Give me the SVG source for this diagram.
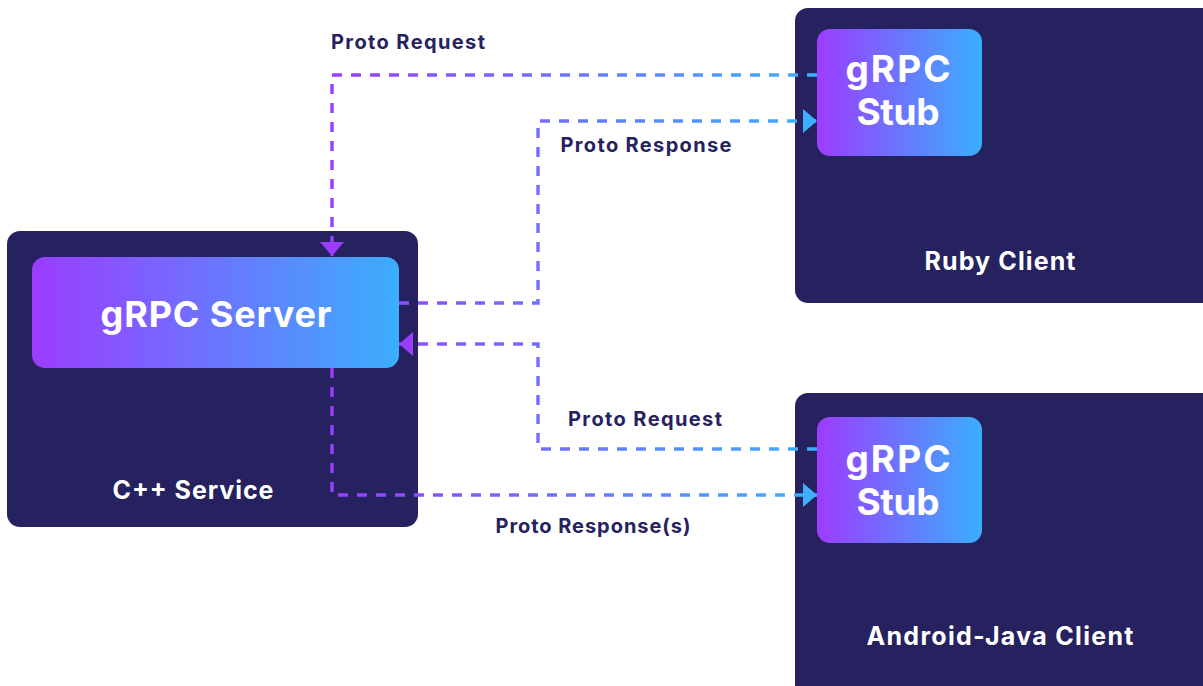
<svg xmlns="http://www.w3.org/2000/svg" width="1203" height="686" viewBox="0 0 1203 686">
  <defs>
    <linearGradient id="boxGrad" x1="0" y1="0" x2="1" y2="0">
      <stop offset="0" stop-color="#9C3CFF"/>
      <stop offset="1" stop-color="#3BAEFD"/>
    </linearGradient>
    <linearGradient id="lineGrad" gradientUnits="userSpaceOnUse" x1="332" y1="0" x2="817" y2="0">
      <stop offset="0" stop-color="#9A3DFF"/>
      <stop offset="1" stop-color="#3DB0FF"/>
    </linearGradient>
    <marker id="arrowPurple" markerUnits="userSpaceOnUse" markerWidth="16" markerHeight="26" refX="14" refY="12" orient="auto" viewBox="0 0 16 24">
      <path d="M0,0 L14,12 L0,24 Z" fill="#9A3DFF"/>
    </marker>
    <marker id="arrowBlue" markerUnits="userSpaceOnUse" markerWidth="16" markerHeight="26" refX="14" refY="12" orient="auto" viewBox="0 0 16 24">
      <path d="M0,0 L14,12 L0,24 Z" fill="#3DAFFF"/>
    </marker>
    <style>
      .outer { fill: #262260; }
      .inner { fill: url(#boxGrad); }
      .conn { fill: none; stroke: url(#lineGrad); stroke-width: 3.4; stroke-dasharray: 10 9; }
      .lbl { font-family: Inter, "Liberation Sans", sans-serif; font-weight: 700; fill: #262260; font-size: 20px; text-anchor: middle; }
      .wt { font-family: Inter, "Liberation Sans", sans-serif; font-weight: 700; fill: #ffffff; text-anchor: middle; }
    </style>
  </defs>
  <rect width="1203" height="686" fill="#ffffff"/>

  <g id="cpp-service">
    <rect class="outer" x="7" y="231" width="411" height="296" rx="13"/>
    <text class="wt" x="193" y="499" font-size="25" textLength="161" lengthAdjust="spacing">C++ Service</text>
  </g>
  <g id="grpc-server">
    <rect class="inner" x="32" y="257" width="367" height="111" rx="13"/>
    <text class="wt" x="216" y="327" font-size="36" textLength="231" lengthAdjust="spacing">gRPC Server</text>
  </g>

  <g id="ruby-client">
    <rect class="outer" x="795" y="8" width="420" height="295" rx="13"/>
    <text class="wt" x="1000" y="270" font-size="25" textLength="151" lengthAdjust="spacing">Ruby Client</text>
  </g>
  <g id="ruby-stub">
    <rect class="inner" x="817" y="29" width="165" height="127" rx="13"/>
    <text class="wt" x="898" y="82" font-size="37" textLength="105" lengthAdjust="spacing">gRPC</text>
    <text class="wt" x="898" y="125" font-size="37" textLength="83" lengthAdjust="spacing">Stub</text>
  </g>

  <g id="android-client">
    <rect class="outer" x="795" y="393" width="420" height="310" rx="13"/>
    <text class="wt" x="1000" y="645" font-size="25" textLength="267" lengthAdjust="spacing">Android-Java Client</text>
  </g>
  <g id="android-stub">
    <rect class="inner" x="817" y="417" width="165" height="126" rx="13"/>
    <text class="wt" x="898" y="472" font-size="37" textLength="105" lengthAdjust="spacing">gRPC</text>
    <text class="wt" x="898" y="515" font-size="37" textLength="83" lengthAdjust="spacing">Stub</text>
  </g>

  <g id="connectors">
    <path class="conn" d="M817,75 H332 V256" marker-end="url(#arrowPurple)"/>
    <path class="conn" d="M399,303 H538 V121 H817" marker-end="url(#arrowBlue)"/>
    <path class="conn" d="M817,449 H538 V344 H399" marker-end="url(#arrowPurple)"/>
    <path class="conn" d="M332,368 V495 H817" marker-end="url(#arrowBlue)"/>
  </g>

  <g id="labels">
    <text class="lbl" x="408" y="49" textLength="154" lengthAdjust="spacing">Proto Request</text>
    <text class="lbl" x="646" y="152" textLength="171" lengthAdjust="spacing">Proto Response</text>
    <text class="lbl" x="645" y="426" textLength="154" lengthAdjust="spacing">Proto Request</text>
    <text class="lbl" x="593" y="533" textLength="195" lengthAdjust="spacing">Proto Response(s)</text>
  </g>
</svg>
